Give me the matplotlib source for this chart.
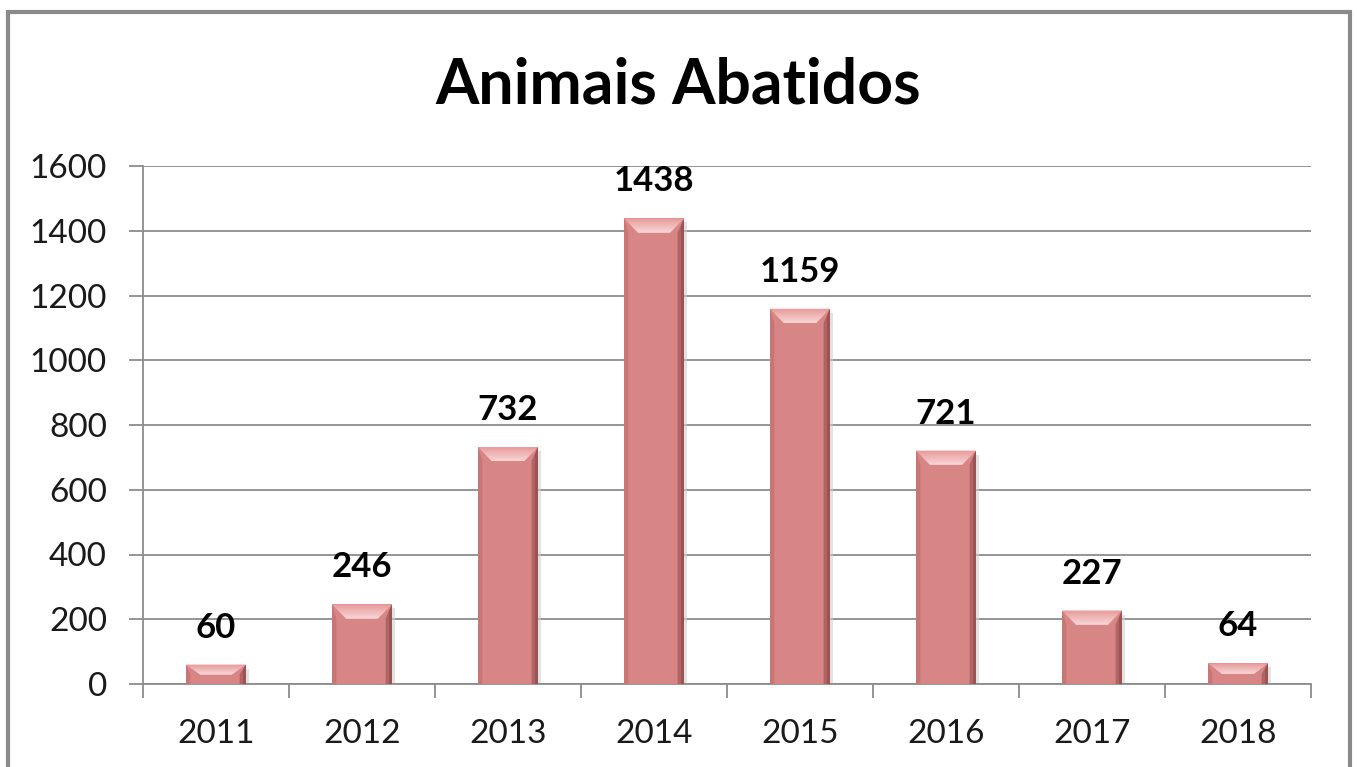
import matplotlib.pyplot as plt
import numpy as np
from matplotlib.patches import Polygon, Rectangle

plt.rcParams['font.family'] = ['Lato', 'DejaVu Sans']

anos = ['2011', '2012', '2013', '2014', '2015', '2016', '2017', '2018']
abatidos = [60, 246, 732, 1438, 1159, 721, 227, 64]

W, H = 1357, 767
fig = plt.figure(figsize=(W / 100, H / 100), dpi=100)
ax = fig.add_axes([143 / W, 1 - 684 / H, (1311 - 143) / W, (684 - 166) / H])

ax.set_xlim(-0.5, len(anos) - 0.5)
ax.set_ylim(0, 1600)

# escala de pixels para o chanfro das barras
px_x = len(anos) / (1311 - 143)
px_y = 1600 / (684 - 166)
largura = 0.41

x = np.arange(len(anos))
ax.bar(x, abatidos, width=largura, color='#d88585', zorder=3, linewidth=0)

claro = np.array([0.98, 0.85, 0.85])
base = np.array([0.91, 0.62, 0.62])

for xi, v in zip(x, abatidos):
    x0, x1 = xi - largura / 2, xi + largura / 2
    d = 14 * px_x
    dy = min(14 * px_y, v * 0.5)
    # sombra suave à direita
    ax.add_patch(Rectangle((x1, 0), 3 * px_x, v - 4 * px_y, color='#cfcfcf', alpha=0.6,
                           zorder=2, linewidth=0))
    # lateral esquerda
    ax.add_patch(Polygon([(x0, 0), (x0, v), (x0 + d * 0.3, v - dy), (x0 + d * 0.3, 0)],
                         closed=True, color='#c87575', zorder=4, linewidth=0))
    # lateral direita (mais escura)
    ax.add_patch(Polygon([(x1, 0), (x1, v), (x1 - d * 0.45, v - dy), (x1 - d * 0.45, 0)],
                         closed=True, color='#b06464', zorder=4, linewidth=0))
    ax.add_patch(Polygon([(x1, 0), (x1, v), (x1 - d * 0.2, v - dy * 0.5), (x1 - d * 0.2, 0)],
                         closed=True, color='#9a5252', zorder=4, linewidth=0))
    # topo chanfrado com degradê
    n = 8
    for k in range(n):
        f = k / n
        cor = base + (claro - base) * f
        ax.add_patch(Polygon([(x0 + d * f, v - dy * f), (x1 - d * f, v - dy * f),
                              (x1 - d, v - dy), (x0 + d, v - dy)],
                             closed=True, color=cor, zorder=5 + k, linewidth=0))
    ax.text(xi, v + 37 * px_y, str(v), ha='center', va='center', fontsize=25,
            fontweight='bold', color='black', zorder=20)

ax.set_yticks(np.arange(0, 1601, 200))
ax.yaxis.grid(True, color='#8c8c8c', linewidth=1.3, zorder=0)
ax.set_axisbelow(True)

ax.set_xticks(x)
ax.set_xticklabels(anos)
ax.set_xticks(np.arange(-0.5, len(anos)), minor=True)
ax.tick_params(axis='x', which='major', length=0, pad=25, labelsize=24)
ax.tick_params(axis='x', which='minor', length=10, width=1.3, color='#8c8c8c')
ax.tick_params(axis='y', length=10, width=1.3, color='#8c8c8c', pad=16, labelsize=24)
for lab in ax.get_xticklabels() + ax.get_yticklabels():
    lab.set_color('#1a1a1a')

for s in ['top', 'right']:
    ax.spines[s].set_visible(False)
for s in ['left', 'bottom']:
    ax.spines[s].set_color('#8c8c8c')
    ax.spines[s].set_linewidth(1.3)

fig.text(678 / W, 1 - 86 / H, 'Animais Abatidos', ha='center', va='center',
         fontsize=45, fontweight='bold')

# moldura externa do gráfico
fig.patches.append(Rectangle((8 / W, -0.05), (1350 - 8) / W, 1 - 12 / H + 0.05,
                             transform=fig.transFigure, fill=False,
                             edgecolor='#8a8a8a', linewidth=3))

fig.savefig('out.png', dpi=100)
